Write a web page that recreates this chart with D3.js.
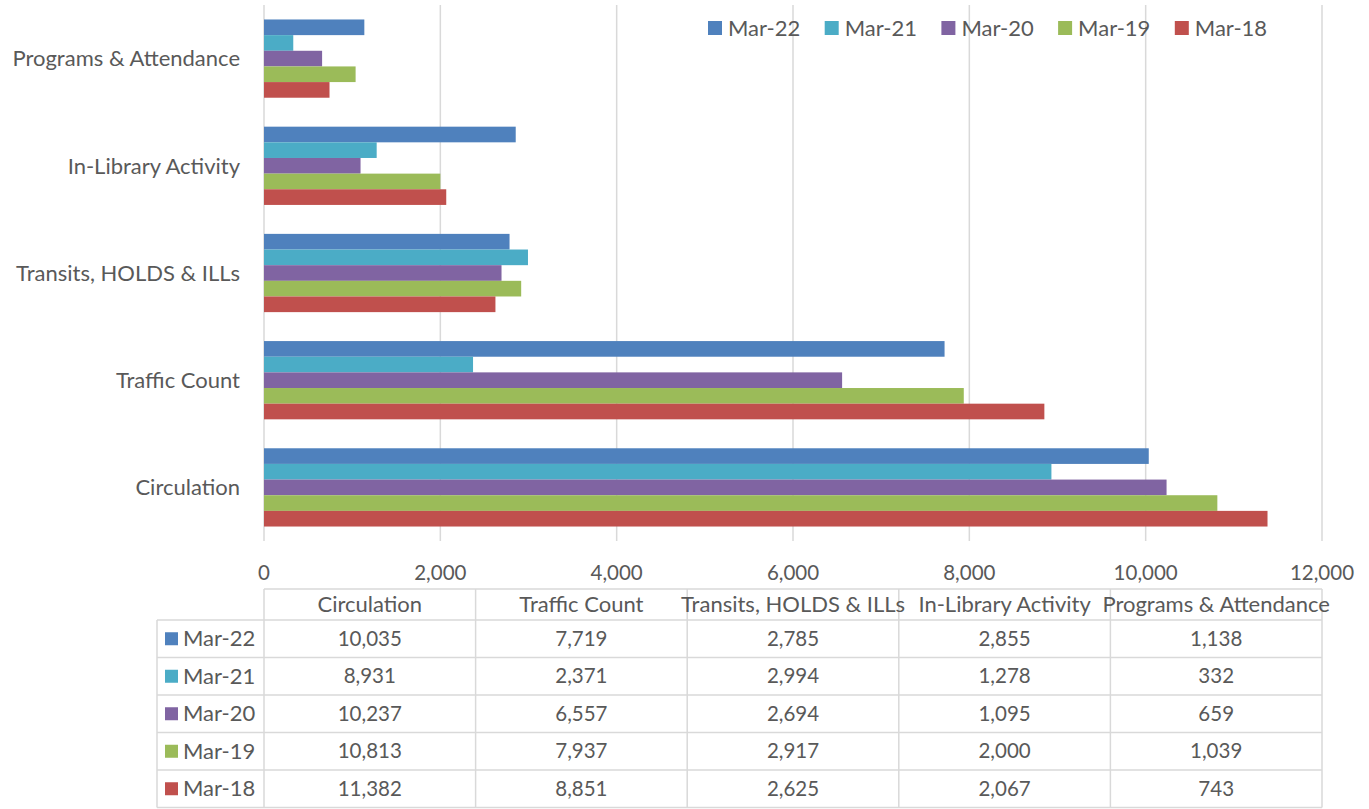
<!DOCTYPE html>
<html>
<head>
<meta charset="utf-8">
<script src="https://cdn.jsdelivr.net/npm/d3@7"></script>
<style>
  body { margin: 0; background: #fff; }
  text { font-family: Lato, "Open Sans", sans-serif; fill: #595959; }
</style>
</head>
<body>
<svg id="chart" width="1369" height="809"></svg>
<script>
var categories = ["Circulation", "Traffic Count", "Transits, HOLDS & ILLs", "In-Library Activity", "Programs & Attendance"];
var seriesNames = ["Mar-22", "Mar-21", "Mar-20", "Mar-19", "Mar-18"];
var mar22 = [10035, 7719, 2785, 2855, 1138];
var mar21 = [8931, 2371, 2994, 1278, 332];
var mar20 = [10237, 6557, 2694, 1095, 659];
var mar19 = [10813, 7937, 2917, 2000, 1039];
var mar18 = [11382, 8851, 2625, 2067, 743];
var seriesValues = [mar22, mar21, mar20, mar19, mar18];
var colors = ["#4f81bd", "#4bacc6", "#8064a2", "#9bbb59", "#c0504d"];
var xTicks = [0, 2000, 4000, 6000, 8000, 10000, 12000];

var fmt = d3.format(",");
var svg = d3.select("#chart");
var plotLeft = 264, plotRight = 1322, plotTop = 5, plotBottom = 541;
var labelSize = "22px", numSize = "20.5px";

var x = d3.scaleLinear().domain([0, 12000]).range([plotLeft, plotRight]);
// excel puts the first category at the bottom
var y = d3.scaleBand().domain(categories.slice().reverse()).range([plotTop, plotBottom]).paddingInner(0.27).paddingOuter(0.135);
var yInner = d3.scaleBand().domain(seriesNames).range([0, y.bandwidth()]);

// gridlines
svg.append("g").selectAll("line")
  .data(xTicks)
  .enter()
  .append("line")
  .attr("x1", function(d) { return x(d); })
  .attr("x2", function(d) { return x(d); })
  .attr("y1", plotTop)
  .attr("y2", plotBottom)
  .attr("stroke", "#d9d9d9")
  .attr("stroke-width", 1.5);

// bars
seriesNames.forEach(function(s, si) {
  svg.append("g").selectAll("rect")
    .data(categories)
    .enter()
    .append("rect")
    .attr("x", x(0))
    .attr("y", function(d) { return y(d) + yInner(s); })
    .attr("width", function(d, i) { return x(seriesValues[si][i]) - x(0); })
    .attr("height", yInner.bandwidth())
    .attr("fill", colors[si]);
});

// category labels
svg.append("g").selectAll("text")
  .data(categories)
  .enter()
  .append("text")
  .attr("x", 240)
  .attr("y", function(d) { return y(d) + y.bandwidth() / 2; })
  .attr("dy", "0.35em")
  .attr("text-anchor", "end")
  .attr("font-size", labelSize)
  .text(function(d) { return d; });

// x tick labels
svg.append("g").selectAll("text")
  .data(xTicks)
  .enter()
  .append("text")
  .attr("x", function(d) { return x(d); })
  .attr("y", 573)
  .attr("dy", "0.35em")
  .attr("text-anchor", "middle")
  .attr("font-size", numSize)
  .text(function(d) { return fmt(d); });

// legend
var legend = svg.append("g").selectAll("g")
  .data(seriesNames)
  .enter()
  .append("g")
  .attr("transform", function(d, i) { return "translate(" + (708 + i * 116.7) + ",21)"; });
legend.append("rect").attr("width", 14).attr("height", 14).attr("fill", function(d, i) { return colors[i]; });
legend.append("text").attr("x", 20).attr("y", 7).attr("dy", "0.35em").attr("font-size", labelSize).text(function(d) { return d; });

// data table
var tTop = 589, headH = 31, rowH = 37.5, labelLeft = 157;
var colW = (plotRight - plotLeft) / categories.length;
var grid = svg.append("g").attr("stroke", "#d9d9d9").attr("stroke-width", 1.5);
grid.append("line").attr("x1", plotLeft).attr("x2", plotRight).attr("y1", tTop).attr("y2", tTop);
var rowLines = d3.range(seriesNames.length + 1).map(function(i) { return tTop + headH + i * rowH; });
grid.selectAll(".h").data(rowLines).enter().append("line")
  .attr("x1", labelLeft).attr("x2", plotRight)
  .attr("y1", function(d) { return d; }).attr("y2", function(d) { return d; });
grid.selectAll(".v").data(d3.range(categories.length + 1)).enter().append("line")
  .attr("x1", function(d) { return plotLeft + d * colW; }).attr("x2", function(d) { return plotLeft + d * colW; })
  .attr("y1", tTop).attr("y2", rowLines[rowLines.length - 1]);
grid.append("line").attr("x1", labelLeft).attr("x2", labelLeft).attr("y1", rowLines[0]).attr("y2", rowLines[rowLines.length - 1]);

svg.append("g").selectAll("text")
  .data(categories)
  .enter()
  .append("text")
  .attr("x", function(d, i) { return plotLeft + (i + 0.5) * colW; })
  .attr("y", tTop + headH / 2)
  .attr("dy", "0.35em")
  .attr("text-anchor", "middle")
  .attr("font-size", labelSize)
  .text(function(d) { return d; });

var rows = svg.append("g").selectAll("g")
  .data(seriesNames)
  .enter()
  .append("g")
  .attr("transform", function(d, i) { return "translate(0," + (rowLines[i] + rowH / 2) + ")"; });
rows.append("rect").attr("x", 165).attr("y", -6.5).attr("width", 13).attr("height", 13)
  .attr("fill", function(d, i) { return colors[i]; });
rows.append("text").attr("x", 183).attr("dy", "0.35em").attr("font-size", labelSize).text(function(d) { return d; });
rows.each(function(s, si) {
  d3.select(this).selectAll(".v").data(seriesValues[si]).enter().append("text")
    .attr("x", function(d, i) { return plotLeft + (i + 0.5) * colW; })
    .attr("dy", "0.35em")
    .attr("text-anchor", "middle")
    .attr("font-size", numSize)
    .text(function(d) { return fmt(d); });
});
</script>
</body>
</html>
